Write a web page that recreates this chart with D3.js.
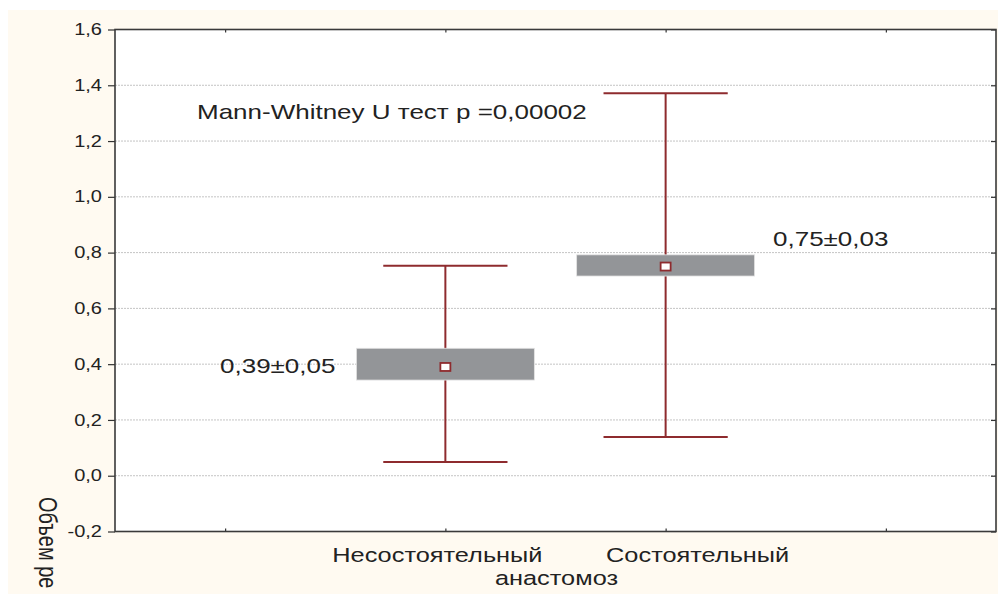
<!DOCTYPE html>
<html>
<head>
<meta charset="utf-8">
<script src="https://cdn.jsdelivr.net/npm/d3@7/dist/d3.min.js"></script>
<style>
  html, body { margin: 0; padding: 0; background: #ffffff; }
  svg { display: block; }
  text { font-family: "Liberation Sans", Arial, sans-serif; fill: #222; }
</style>
</head>
<body>
<svg id="chart" width="998" height="594"></svg>
<script>
// Groups and their summary statistics
const categories = ["Несостоятельный", "Состоятельный"];
const means      = [0.39, 0.75];
const errors     = [0.05, 0.03];
const boxLow     = [0.343, 0.716];
const boxHigh    = [0.457, 0.792];
const whiskerLow = [0.049, 0.139];
const whiskerHigh= [0.753, 1.371];
const yTicks     = [-0.2, 0, 0.2, 0.4, 0.6, 0.8, 1.0, 1.2, 1.4, 1.6];
const xTicks     = [-1, 0, 1, 2];
const testLabel  = "Mann-Whitney U тест p =0,00002";
const xTitle     = "анастомоз";
const yTitle     = "Объем ре";

const fmt = v => d3.format(".1f")(v).replace(".", ",").replace("−", "-");
const fmt2 = v => d3.format(".2f")(v).replace(".", ",");

const W = 998, H = 594;
const SX = 1.25;               // horizontal text stretch (tick labels)
const SXL = 1.3;               // horizontal text stretch (larger labels)
const plot = { left: 115, right: 996, top: 29.5, bottom: 531.5 };

const svg = d3.select("#chart");

// page background
svg.append("rect").attr("x", 8).attr("y", 10).attr("width", W - 8).attr("height", H - 10)
  .attr("fill", "#fffaf1");
svg.append("rect").attr("x", plot.left).attr("y", plot.top)
  .attr("width", plot.right - plot.left).attr("height", plot.bottom - plot.top)
  .attr("fill", "#ffffff");

const x = d3.scaleLinear().domain([-1.5, 2.5]).range([plot.left, plot.right]);
const y = d3.scaleLinear().domain([-0.2, 1.6]).range([plot.bottom, plot.top]);

// dotted grid
svg.append("g").selectAll("line")
  .data(yTicks.filter(t => t > -0.2 && t < 1.6))
  .join("line")
  .attr("x1", plot.left).attr("x2", plot.right)
  .attr("y1", d => y(d)).attr("y2", d => y(d))
  .attr("stroke", "#c4c4c4").attr("stroke-width", 1).attr("stroke-dasharray", "2,1");

function stretchText(sel, dx) {
  sel.attr("x", null).attr("transform", `translate(${dx},0) scale(${SX},1)`);
}

// left axis with outward ticks
const gy = svg.append("g").attr("transform", `translate(${plot.left},0)`)
  .call(d3.axisLeft(y).tickValues(yTicks).tickFormat(fmt).tickSize(7).tickPadding(5));
gy.select(".domain").remove();
gy.selectAll(".tick line").attr("stroke", "#333").attr("stroke-width", 1.2);
gy.selectAll(".tick text").style("font-size", "16px").attr("fill", "#222")
  .call(stretchText, -13);

// right axis, inward ticks
const gr = svg.append("g").attr("transform", `translate(${plot.right},0)`)
  .call(d3.axisRight(y).tickValues(yTicks).tickFormat("").tickSize(-5));
gr.select(".domain").remove();
gr.selectAll(".tick line").attr("stroke", "#333").attr("stroke-width", 1.2);

// top and bottom inward ticks
const gt = svg.append("g").attr("transform", `translate(0,${plot.top})`)
  .call(d3.axisTop(x).tickValues(xTicks).tickFormat("").tickSize(-3));
gt.select(".domain").remove();
gt.selectAll(".tick line").attr("stroke", "#333").attr("stroke-width", 1.2);
const gb = svg.append("g").attr("transform", `translate(0,${plot.bottom})`)
  .call(d3.axisBottom(x).tickValues(xTicks).tickFormat("").tickSize(-3));
gb.select(".domain").remove();
gb.selectAll(".tick line").attr("stroke", "#333").attr("stroke-width", 1.2);

// frame
svg.append("rect").attr("x", plot.left).attr("y", plot.top)
  .attr("width", plot.right - plot.left).attr("height", plot.bottom - plot.top)
  .attr("fill", "none").attr("stroke", "#3a3a3a").attr("stroke-width", 1.6);

// category labels
const labelShift = [-8, 32];
svg.append("g").selectAll("text").data(categories).join("text")
  .attr("transform", (d, i) => `translate(${x(i) + labelShift[i]},562) scale(${SXL},1)`)
  .attr("text-anchor", "middle").style("font-size", "19.5px").text(d => d);

svg.append("text")
  .attr("transform", `translate(${(plot.left + plot.right) / 2 + 1},584.5) scale(${SXL},1)`)
  .attr("text-anchor", "middle").style("font-size", "19.5px").text(xTitle);

svg.append("text")
  .attr("transform", `translate(39,497) scale(${SX},1) rotate(90)`)
  .style("font-size", "20px").text(yTitle);

// whiskers, boxes and mean markers
const red = "#8e2b2e";
const groups = categories.map((c, i) => ({ i, c }));
const g = svg.append("g");
g.selectAll(".whisker").data(groups).join("line").attr("class", "whisker")
  .attr("x1", d => x(d.i)).attr("x2", d => x(d.i))
  .attr("y1", d => y(whiskerLow[d.i])).attr("y2", d => y(whiskerHigh[d.i]))
  .attr("stroke", red).attr("stroke-width", 2);
["low", "high"].forEach(k => {
  g.selectAll(".cap-" + k).data(groups).join("line").attr("class", "cap-" + k)
    .attr("x1", d => x(d.i - 0.282)).attr("x2", d => x(d.i + 0.282))
    .attr("y1", d => y((k === "low" ? whiskerLow : whiskerHigh)[d.i]))
    .attr("y2", d => y((k === "low" ? whiskerLow : whiskerHigh)[d.i]))
    .attr("stroke", red).attr("stroke-width", 2);
});
g.selectAll(".box").data(groups).join("rect").attr("class", "box")
  .attr("x", d => x(d.i - 0.404)).attr("width", d => x(d.i + 0.404) - x(d.i - 0.404))
  .attr("y", d => y(boxHigh[d.i])).attr("height", d => y(boxLow[d.i]) - y(boxHigh[d.i]))
  .attr("fill", "#939598").attr("stroke", "#e4e4e4").attr("stroke-width", 0.8);
g.selectAll(".mean").data(groups).join("rect").attr("class", "mean")
  .attr("x", d => x(d.i) - 5).attr("y", d => y(means[d.i]) - 4)
  .attr("width", 10).attr("height", 8)
  .attr("fill", "#ffffff").attr("stroke", red).attr("stroke-width", 1.8);

// annotations
svg.append("text").attr("transform", `translate(197,119) scale(${SXL},1)`)
  .style("font-size", "20px").text(testLabel);
svg.append("text").attr("transform", `translate(220,372.5) scale(${SXL},1)`)
  .style("font-size", "20px").text(`${fmt2(means[0])}±${fmt2(errors[0])}`);
svg.append("text").attr("transform", `translate(773,246) scale(${SXL},1)`)
  .style("font-size", "20px").text(`${fmt2(means[1])}±${fmt2(errors[1])}`);
</script>
</body>
</html>
